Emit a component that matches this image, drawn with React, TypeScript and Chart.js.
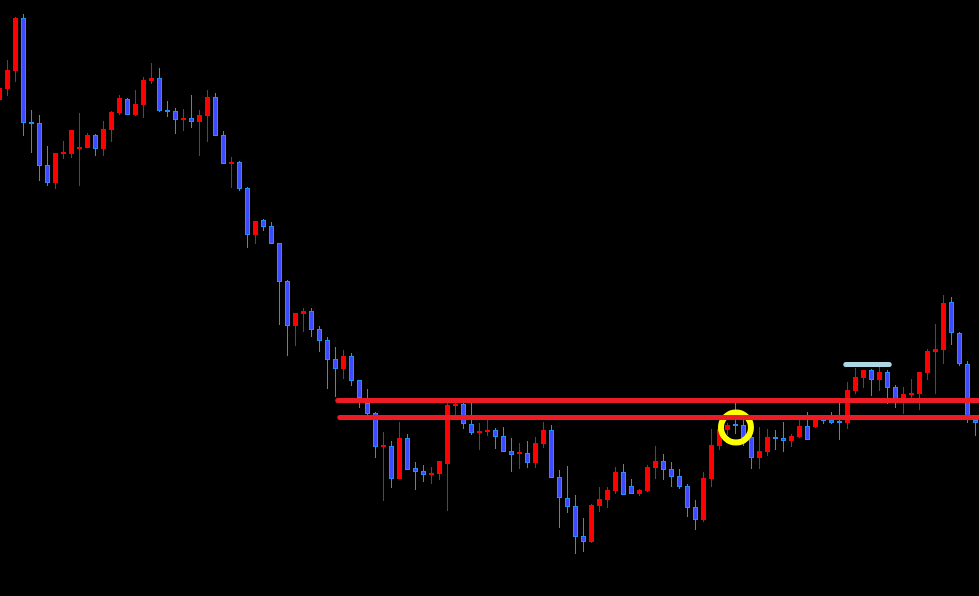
import React, { useEffect, useRef } from "react";
import { Chart, registerables } from "chart.js";

Chart.register(...registerables);

// Candle OHLC data (bar index 0..122)
const opens = [
  1.1500, 1.1511, 1.1529, 1.1582, 1.1478, 1.1477, 1.1435, 1.1417, 1.1446, 1.1446,
  1.1451, 1.1452, 1.1465, 1.1451, 1.1470, 1.1487, 1.1501, 1.1485, 1.1495, 1.1519,
  1.1522, 1.1490, 1.1489, 1.1480, 1.1482, 1.1478, 1.1484, 1.1503, 1.1465, 1.1436,
  1.1438, 1.1412, 1.1365, 1.1380, 1.1374, 1.1357, 1.1319, 1.1274, 1.1286, 1.1289,
  1.1271, 1.1260, 1.1241, 1.1231, 1.1244, 1.1220, 1.1197, 1.1187, 1.1153, 1.1154,
  1.1121, 1.1162, 1.1132, 1.1129, 1.1125, 1.1126, 1.1136, 1.1194, 1.1196, 1.1176,
  1.1167, 1.1168, 1.1170, 1.1164, 1.1149, 1.1146, 1.1147, 1.1137, 1.1156, 1.1170,
  1.1123, 1.1102, 1.1094, 1.1064, 1.1058, 1.1094, 1.1100, 1.1109, 1.1128, 1.1114,
  1.1106, 1.1109, 1.1132, 1.1139, 1.1131, 1.1124, 1.1114, 1.1093, 1.1080, 1.1121,
  1.1154, 1.1170, 1.1176, 1.1175, 1.1163, 1.1142, 1.1148, 1.1163, 1.1162, 1.1159,
  1.1163, 1.1174, 1.1173, 1.1181, 1.1180, 1.1179, 1.1177, 1.1209, 1.1222, 1.1230,
  1.1220, 1.1228, 1.1213, 1.1202, 1.1205, 1.1206, 1.1227, 1.1248, 1.1250, 1.1298,
  1.1267, 1.1236, 1.1180,
];
const highs = [
  1.1515, 1.1540, 1.1583, 1.1586, 1.1490, 1.1485, 1.1454, 1.1447, 1.1459, 1.1470,
  1.1487, 1.1467, 1.1466, 1.1479, 1.1489, 1.1505, 1.1502, 1.1510, 1.1523, 1.1537,
  1.1532, 1.1499, 1.1492, 1.1491, 1.1505, 1.1490, 1.1510, 1.1507, 1.1469, 1.1443,
  1.1439, 1.1413, 1.1379, 1.1381, 1.1378, 1.1357, 1.1320, 1.1287, 1.1292, 1.1292,
  1.1274, 1.1263, 1.1253, 1.1250, 1.1247, 1.1220, 1.1211, 1.1188, 1.1168, 1.1159,
  1.1178, 1.1166, 1.1138, 1.1135, 1.1133, 1.1139, 1.1198, 1.1200, 1.1200, 1.1197,
  1.1177, 1.1180, 1.1172, 1.1173, 1.1162, 1.1157, 1.1159, 1.1163, 1.1178, 1.1175,
  1.1130, 1.1134, 1.1105, 1.1082, 1.1096, 1.1113, 1.1113, 1.1133, 1.1136, 1.1121,
  1.1111, 1.1135, 1.1154, 1.1146, 1.1138, 1.1131, 1.1116, 1.1100, 1.1128, 1.1171,
  1.1176, 1.1177, 1.1197, 1.1180, 1.1167, 1.1173, 1.1171, 1.1170, 1.1178, 1.1166,
  1.1180, 1.1188, 1.1182, 1.1184, 1.1188, 1.1197, 1.1218, 1.1232, 1.1230, 1.1231,
  1.1233, 1.1230, 1.1215, 1.1213, 1.1221, 1.1228, 1.1251, 1.1276, 1.1305, 1.1303,
  1.1268, 1.1239, 1.1180,
];
const lows = [
  1.1498, 1.1504, 1.1518, 1.1464, 1.1447, 1.1419, 1.1414, 1.1411, 1.1441, 1.1442,
  1.1414, 1.1452, 1.1444, 1.1444, 1.1458, 1.1485, 1.1485, 1.1484, 1.1482, 1.1516,
  1.1488, 1.1483, 1.1466, 1.1469, 1.1472, 1.1444, 1.1458, 1.1464, 1.1436, 1.1412,
  1.1409, 1.1352, 1.1356, 1.1369, 1.1356, 1.1275, 1.1244, 1.1254, 1.1268, 1.1263,
  1.1248, 1.1211, 1.1203, 1.1221, 1.1214, 1.1192, 1.1180, 1.1142, 1.1099, 1.1112,
  1.1121, 1.1130, 1.1110, 1.1118, 1.1116, 1.1120, 1.1089, 1.1185, 1.1171, 1.1165,
  1.1150, 1.1164, 1.1151, 1.1148, 1.1128, 1.1131, 1.1132, 1.1132, 1.1152, 1.1122,
  1.1072, 1.1087, 1.1046, 1.1048, 1.1057, 1.1088, 1.1092, 1.1106, 1.1105, 1.1106,
  1.1104, 1.1108, 1.1121, 1.1120, 1.1113, 1.1111, 1.1083, 1.1070, 1.1078, 1.1113,
  1.1150, 1.1165, 1.1166, 1.1154, 1.1131, 1.1131, 1.1144, 1.1150, 1.1148, 1.1153,
  1.1162, 1.1160, 1.1172, 1.1176, 1.1176, 1.1160, 1.1171, 1.1206, 1.1212, 1.1204,
  1.1209, 1.1196, 1.1192, 1.1186, 1.1202, 1.1190, 1.1220, 1.1206, 1.1236, 1.1255,
  1.1234, 1.1177, 1.1164,
];
const closes = [
  1.1512, 1.1530, 1.1582, 1.1477, 1.1476, 1.1434, 1.1417, 1.1447, 1.1448, 1.1470,
  1.1453, 1.1465, 1.1451, 1.1471, 1.1488, 1.1502, 1.1485, 1.1496, 1.1520, 1.1522,
  1.1489, 1.1488, 1.1480, 1.1482, 1.1478, 1.1485, 1.1503, 1.1464, 1.1436, 1.1438,
  1.1411, 1.1365, 1.1379, 1.1373, 1.1356, 1.1318, 1.1274, 1.1287, 1.1289, 1.1270,
  1.1259, 1.1240, 1.1231, 1.1244, 1.1219, 1.1202, 1.1186, 1.1153, 1.1155, 1.1121,
  1.1162, 1.1130, 1.1128, 1.1125, 1.1127, 1.1139, 1.1195, 1.1196, 1.1176, 1.1167,
  1.1169, 1.1170, 1.1163, 1.1148, 1.1145, 1.1148, 1.1137, 1.1157, 1.1170, 1.1122,
  1.1102, 1.1093, 1.1063, 1.1058, 1.1095, 1.1101, 1.1110, 1.1128, 1.1105, 1.1106,
  1.1110, 1.1133, 1.1139, 1.1130, 1.1123, 1.1113, 1.1092, 1.1080, 1.1122, 1.1155,
  1.1171, 1.1175, 1.1174, 1.1162, 1.1142, 1.1149, 1.1163, 1.1161, 1.1159, 1.1164,
  1.1174, 1.1160, 1.1180, 1.1179, 1.1177, 1.1177, 1.1210, 1.1223, 1.1230, 1.1220,
  1.1228, 1.1212, 1.1197, 1.1206, 1.1207, 1.1228, 1.1249, 1.1251, 1.1297, 1.1267,
  1.1236, 1.1180, 1.1177,
];

// Drawn levels
const resistanceUpper = 1.11995;
const resistanceLower = 1.11825;
const resistanceStartUpper = 42.29;
const resistanceStartLower = 42.54;
const levelEnd = 124;
const rangeTop = 1.12355;
const rangeTopStart = 105.79;
const rangeTopEnd = 111.21;
const markerIndex = 92.06;
const markerPrice = 1.11725;

const X_MIN = 0.0625;
const X_MAX = 122.4375;
const Y_MIN = 1.1004;
const Y_MAX = 1.16;

const UP_COLOR = "#FF0000";
const DOWN_FILL = "#3D4BFF";
const DOWN_EDGE = "#1E90FF";

export default function App() {
  const ref = useRef<HTMLCanvasElement | null>(null);

  useEffect(() => {
    document.body.style.margin = "0";
    document.body.style.background = "#000";
    const canvas = ref.current;
    if (!canvas) return;

    const isUp = opens.map((o, i) => closes[i] >= o);
    const bodies = opens.map((o, i) => ({ x: i, y: [o, closes[i]] }));
    const wicks = lows.map((l, i) => ({ x: i, y: [l, highs[i]] }));

    const chart = new Chart(canvas, {
      type: "bar",
      data: {
        datasets: [
          {
            type: "line",
            data: [
              { x: resistanceStartUpper, y: resistanceUpper },
              { x: levelEnd, y: resistanceUpper },
            ],
            borderColor: "#ED1C24",
            borderWidth: 5,
            borderCapStyle: "round",
            pointRadius: 0,
            order: 0,
          } as any,
          {
            type: "line",
            data: [
              { x: resistanceStartLower, y: resistanceLower },
              { x: levelEnd, y: resistanceLower },
            ],
            borderColor: "#ED1C24",
            borderWidth: 5,
            borderCapStyle: "round",
            pointRadius: 0,
            order: 0,
          } as any,
          {
            type: "line",
            data: [
              { x: rangeTopStart, y: rangeTop },
              { x: rangeTopEnd, y: rangeTop },
            ],
            borderColor: "#ADD8E6",
            borderWidth: 5,
            borderCapStyle: "round",
            pointRadius: 0,
            order: 1,
          } as any,
          {
            type: "line",
            data: [{ x: markerIndex, y: markerPrice }],
            showLine: false,
            pointStyle: "circle",
            pointRadius: 15,
            pointBorderWidth: 6,
            pointBorderColor: "#FFFF00",
            pointBackgroundColor: "rgba(0,0,0,0)",
            order: 1,
          } as any,
          {
            type: "bar",
            data: bodies,
            backgroundColor: isUp.map((u) => (u ? UP_COLOR : DOWN_FILL)),
            borderColor: isUp.map((u) => (u ? UP_COLOR : DOWN_EDGE)),
            borderWidth: 1,
            borderSkipped: false,
            barThickness: 5,
            grouped: false,
            inflateAmount: 0,
            minBarLength: 2,
            order: 2,
          } as any,
          {
            type: "bar",
            data: wicks,
            backgroundColor: isUp.map((u) => (u ? UP_COLOR : DOWN_EDGE)),
            borderWidth: 0,
            barThickness: 1,
            grouped: false,
            inflateAmount: 0,
            order: 3,
          } as any,
        ],
      },
      options: {
        responsive: false,
        animation: false,
        devicePixelRatio: 1,
        events: [],
        layout: { padding: 0, autoPadding: false },
        plugins: {
          legend: { display: false },
          tooltip: { enabled: false },
        },
        scales: {
          x: { type: "linear", min: X_MIN, max: X_MAX, offset: false, display: false },
          y: { type: "linear", min: Y_MIN, max: Y_MAX, offset: false, display: false },
        },
      } as any,
    });

    return () => chart.destroy();
  }, []);

  return (
    <div
      style={{
        position: "fixed",
        left: 0,
        top: 0,
        width: 979,
        height: 596,
        background: "#000",
      }}
    >
      <canvas ref={ref} width={979} height={596} style={{ display: "block" }} />
    </div>
  );
}
